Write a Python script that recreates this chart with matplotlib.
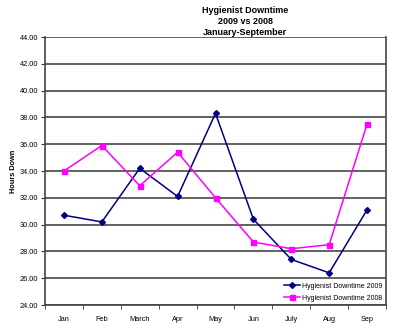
import numpy as np
import matplotlib.pyplot as plt

plt.rcParams['font.family'] = ['Liberation Sans', 'DejaVu Sans']

months = ['Jan', 'Feb', 'March', 'Apr', 'May', 'Jun', 'July', 'Aug', 'Sep']
downtime_2009 = [30.7, 30.2, 34.2, 32.1, 38.3, 30.4, 27.4, 26.4, 31.1]
downtime_2008 = [34.0, 35.9, 32.9, 35.4, 32.0, 28.7, 28.2, 28.5, 37.5]
yticks = np.arange(24, 44.1, 2)

fig = plt.figure(figsize=(4.2, 3.28), dpi=100)
ax = fig.add_axes([45 / 420, 1 - 305 / 328, 341 / 420, 268 / 328])

x = np.arange(len(months))
ax.plot(x, downtime_2009, color='#000080', marker='D', markersize=3, lw=1.1,
        label='Hygienist Downtime 2009')
ax.plot(x, downtime_2008, color='#FF00FF', marker='s', markersize=3.6, lw=1.1,
        label='Hygienist Downtime 2008')

ax.set_xlim(-0.5, len(months) - 0.5)
ax.set_ylim(24, 44)
ax.set_yticks(yticks)
ax.set_yticklabels(['%.2f' % v for v in yticks], fontsize=5.3)
ax.set_xticks(x)
ax.set_xticklabels(months, fontsize=5.3)
ax.tick_params(axis='x', length=0, pad=8)
ax.set_xticks(np.arange(-0.5, len(months)), minor=True)
ax.tick_params(axis='x', which='minor', length=3, direction='out', color='#333333')
ax.tick_params(axis='y', length=3, direction='out', color='#333333', pad=2)

ax.grid(axis='y', color='#555555', lw=1.3)
ax.set_axisbelow(True)
for s in ['left', 'right', 'bottom']:
    ax.spines[s].set_color('#444444')
    ax.spines[s].set_linewidth(1.2)
ax.spines['top'].set_visible(False)

ax.set_ylabel('Hours Down', fontsize=5.3, fontweight='bold', labelpad=2)

leg = ax.legend(loc='lower right', fontsize=5, frameon=False,
                borderaxespad=0.1, handlelength=2.3, handletextpad=0.3,
                labelspacing=0.7)

fig.text(245 / 420, 1 - 6 / 328, 'Hygienist Downtime\n2009 vs 2008\nJanuary-September',
         ha='center', va='top', fontsize=6.5, fontweight='bold', linespacing=1.3)

fig.savefig('out.png', dpi=100)
